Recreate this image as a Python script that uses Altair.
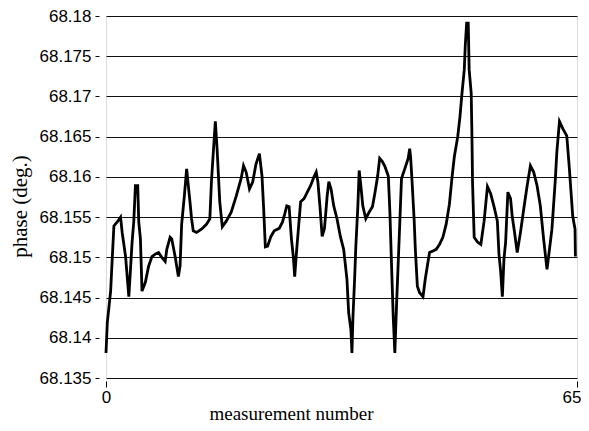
import altair as alt
import pandas as pd

meas_x = [0.0, 0.18, 0.64, 0.86, 1.09, 1.55, 2.01, 2.23, 2.70, 3.15,
          3.38, 3.60, 3.83, 4.06, 4.38, 4.52, 4.75, 4.97, 5.43, 5.88,
          6.34, 6.80, 7.25, 7.70, 8.17, 8.39, 8.85, 9.07, 9.54, 9.99,
          10.22, 10.44, 10.81, 11.13, 11.36, 11.59, 11.81, 12.04, 12.49, 13.18,
          13.86, 14.33, 14.55, 14.87, 15.09, 15.33, 15.70, 16.05, 16.60, 17.28,
          17.97, 18.65, 18.98, 19.34, 19.80, 20.25, 20.70, 21.17, 21.53, 21.76,
          21.99, 22.31, 22.76, 23.22, 23.91, 24.36, 24.67, 24.95, 25.27, 25.59,
          25.86, 26.04, 26.32, 26.64, 26.86, 27.33, 27.78, 28.23, 28.70, 29.01,
          29.24, 29.52, 29.83, 30.15, 30.52, 30.75, 31.06, 31.43, 31.88, 32.34,
          32.80, 33.25, 33.49, 33.80, 33.94, 34.07, 34.31, 34.48, 34.76, 34.94,
          35.17, 35.44, 35.85, 36.30, 36.77, 37.13, 37.49, 37.77, 38.14, 38.49,
          38.96, 39.18, 39.41, 39.64, 39.86, 40.09, 40.33, 40.55, 40.78, 41.23,
          41.70, 41.91, 42.05, 42.24, 42.52, 42.69, 42.97, 43.28, 43.75, 44.06,
          44.34, 44.65, 45.12, 45.57, 46.02, 46.49, 46.94, 47.39, 47.76, 48.07,
          48.54, 48.85, 49.13, 49.44, 49.58, 49.77, 49.99, 50.12, 50.40, 50.49,
          50.59, 50.81, 51.27, 51.73, 52.18, 52.64, 53.09, 53.55, 54.01, 54.23,
          54.46, 54.70, 54.92, 55.15, 55.46, 55.83, 56.06, 56.38, 56.75, 57.20,
          57.65, 58.12, 58.57, 59.02, 59.49, 59.94, 60.39, 60.86, 61.08, 61.54,
          61.99, 62.22, 62.58, 63.04, 63.59, 63.95, 64.41, 64.73, 64.78]

phase_y = [68.1381, 68.1419, 68.1458, 68.1498, 68.1539, 68.1544, 68.1550, 68.1531, 68.1501, 68.1451,
           68.1485, 68.1519, 68.1544, 68.1589, 68.1589, 68.1544, 68.1523, 68.1458, 68.1469, 68.1489,
           68.1501, 68.1504, 68.1506, 68.1500, 68.1495, 68.1510, 68.1525, 68.1523, 68.1501, 68.1476,
           68.1489, 68.1541, 68.1576, 68.1610, 68.1589, 68.1569, 68.1548, 68.1533, 68.1531, 68.1535,
           68.1541, 68.1548, 68.1594, 68.1639, 68.1669, 68.1635, 68.1569, 68.1538, 68.1545, 68.1556,
           68.1576, 68.1598, 68.1614, 68.1606, 68.1585, 68.1594, 68.1616, 68.1629, 68.1601, 68.1560,
           68.1513, 68.1514, 68.1526, 68.1533, 68.1536, 68.1544, 68.1554, 68.1564, 68.1563, 68.1523,
           68.1500, 68.1476, 68.1510, 68.1545, 68.1569, 68.1573, 68.1581, 68.1589, 68.1600, 68.1606,
           68.1594, 68.1564, 68.1526, 68.1536, 68.1576, 68.1594, 68.1585, 68.1564, 68.1548, 68.1526,
           68.1510, 68.1473, 68.1431, 68.1410, 68.1381, 68.1423, 68.1473, 68.1514, 68.1564, 68.1608,
           68.1589, 68.1564, 68.1548, 68.1556, 68.1563, 68.1581, 68.1601, 68.1623, 68.1619, 68.1613,
           68.1601, 68.1556, 68.1489, 68.1426, 68.1381, 68.1439, 68.1494, 68.1544, 68.1598, 68.1610,
           68.1623, 68.1635, 68.1623, 68.1594, 68.1548, 68.1510, 68.1464, 68.1456, 68.1451, 68.1473,
           68.1489, 68.1506, 68.1508, 68.1510, 68.1516, 68.1525, 68.1541, 68.1566, 68.1600, 68.1625,
           68.1650, 68.1675, 68.1704, 68.1733, 68.1763, 68.1791, 68.1791, 68.1733, 68.1704, 68.1658,
           68.1591, 68.1525, 68.1519, 68.1516, 68.1545, 68.1588, 68.1579, 68.1563, 68.1545, 68.1504,
           68.1483, 68.1451, 68.1498, 68.1519, 68.1581, 68.1573, 68.1551, 68.1531, 68.1506, 68.1531,
           68.1560, 68.1589, 68.1614, 68.1606, 68.1589, 68.1564, 68.1523, 68.1485, 68.1501, 68.1535,
           68.1594, 68.1631, 68.1669, 68.1660, 68.1651, 68.1610, 68.1551, 68.1535, 68.1501]

y_ticks = [68.135, 68.14, 68.145, 68.15, 68.155, 68.16, 68.165, 68.17, 68.175, 68.18]
x_ticks = [0, 65]

df = pd.DataFrame({"x": meas_x, "y": phase_y})

chart = alt.Chart(df).mark_line(color="black", strokeWidth=2.8, interpolate="linear").encode(
    x=alt.X("x:Q",
            scale=alt.Scale(domain=[0, 65], nice=False, zero=False),
            axis=alt.Axis(values=x_ticks, grid=False, domain=False, offset=3, tickSize=6,
                          tickColor="black", labelFont="Liberation Sans", labelFontSize=17,
                          labelColor="black", labelPadding=2, labelFlush=False,
                          labelAlign=alt.ExprRef("datum.value == 65 ? 'right' : 'center'"),
                          labelOffset=alt.ExprRef("datum.value == 65 ? 4 : 0"),
                          title="measurement number", titleFont="Liberation Serif",
                          titleFontSize=19, titleFontWeight="normal", titleColor="black",
                          titleX=185, titleY=38, titleAlign="center", titleBaseline="alphabetic")),
    y=alt.Y("y:Q",
            scale=alt.Scale(domain=[68.135, 68.18], nice=False, zero=False),
            axis=alt.Axis(values=y_ticks, format=".3~f", grid=True, gridColor="#111",
                          gridWidth=1, gridOpacity=1, domain=False, offset=7, tickSize=4,
                          tickColor="black", labelFont="Liberation Sans", labelFontSize=17,
                          labelColor="black", labelPadding=4,
                          title="phase (deg.)", titleFont="Liberation Serif",
                          titleFontSize=21, titleFontWeight="normal", titleColor="black",
                          titleAngle=-90, titleX=-79, titleY=190, titleAlign="center",
                          titleBaseline="middle")),
).properties(
    width=471, height=362,
    autosize=alt.AutoSizeParams(type="none"),
    padding={"left": 98, "top": 8, "right": 4, "bottom": 45},
).configure_view(stroke="black", strokeWidth=1.5).configure(background="white")

chart.save("out.html", embed_options={"renderer": "svg", "actions": False})
